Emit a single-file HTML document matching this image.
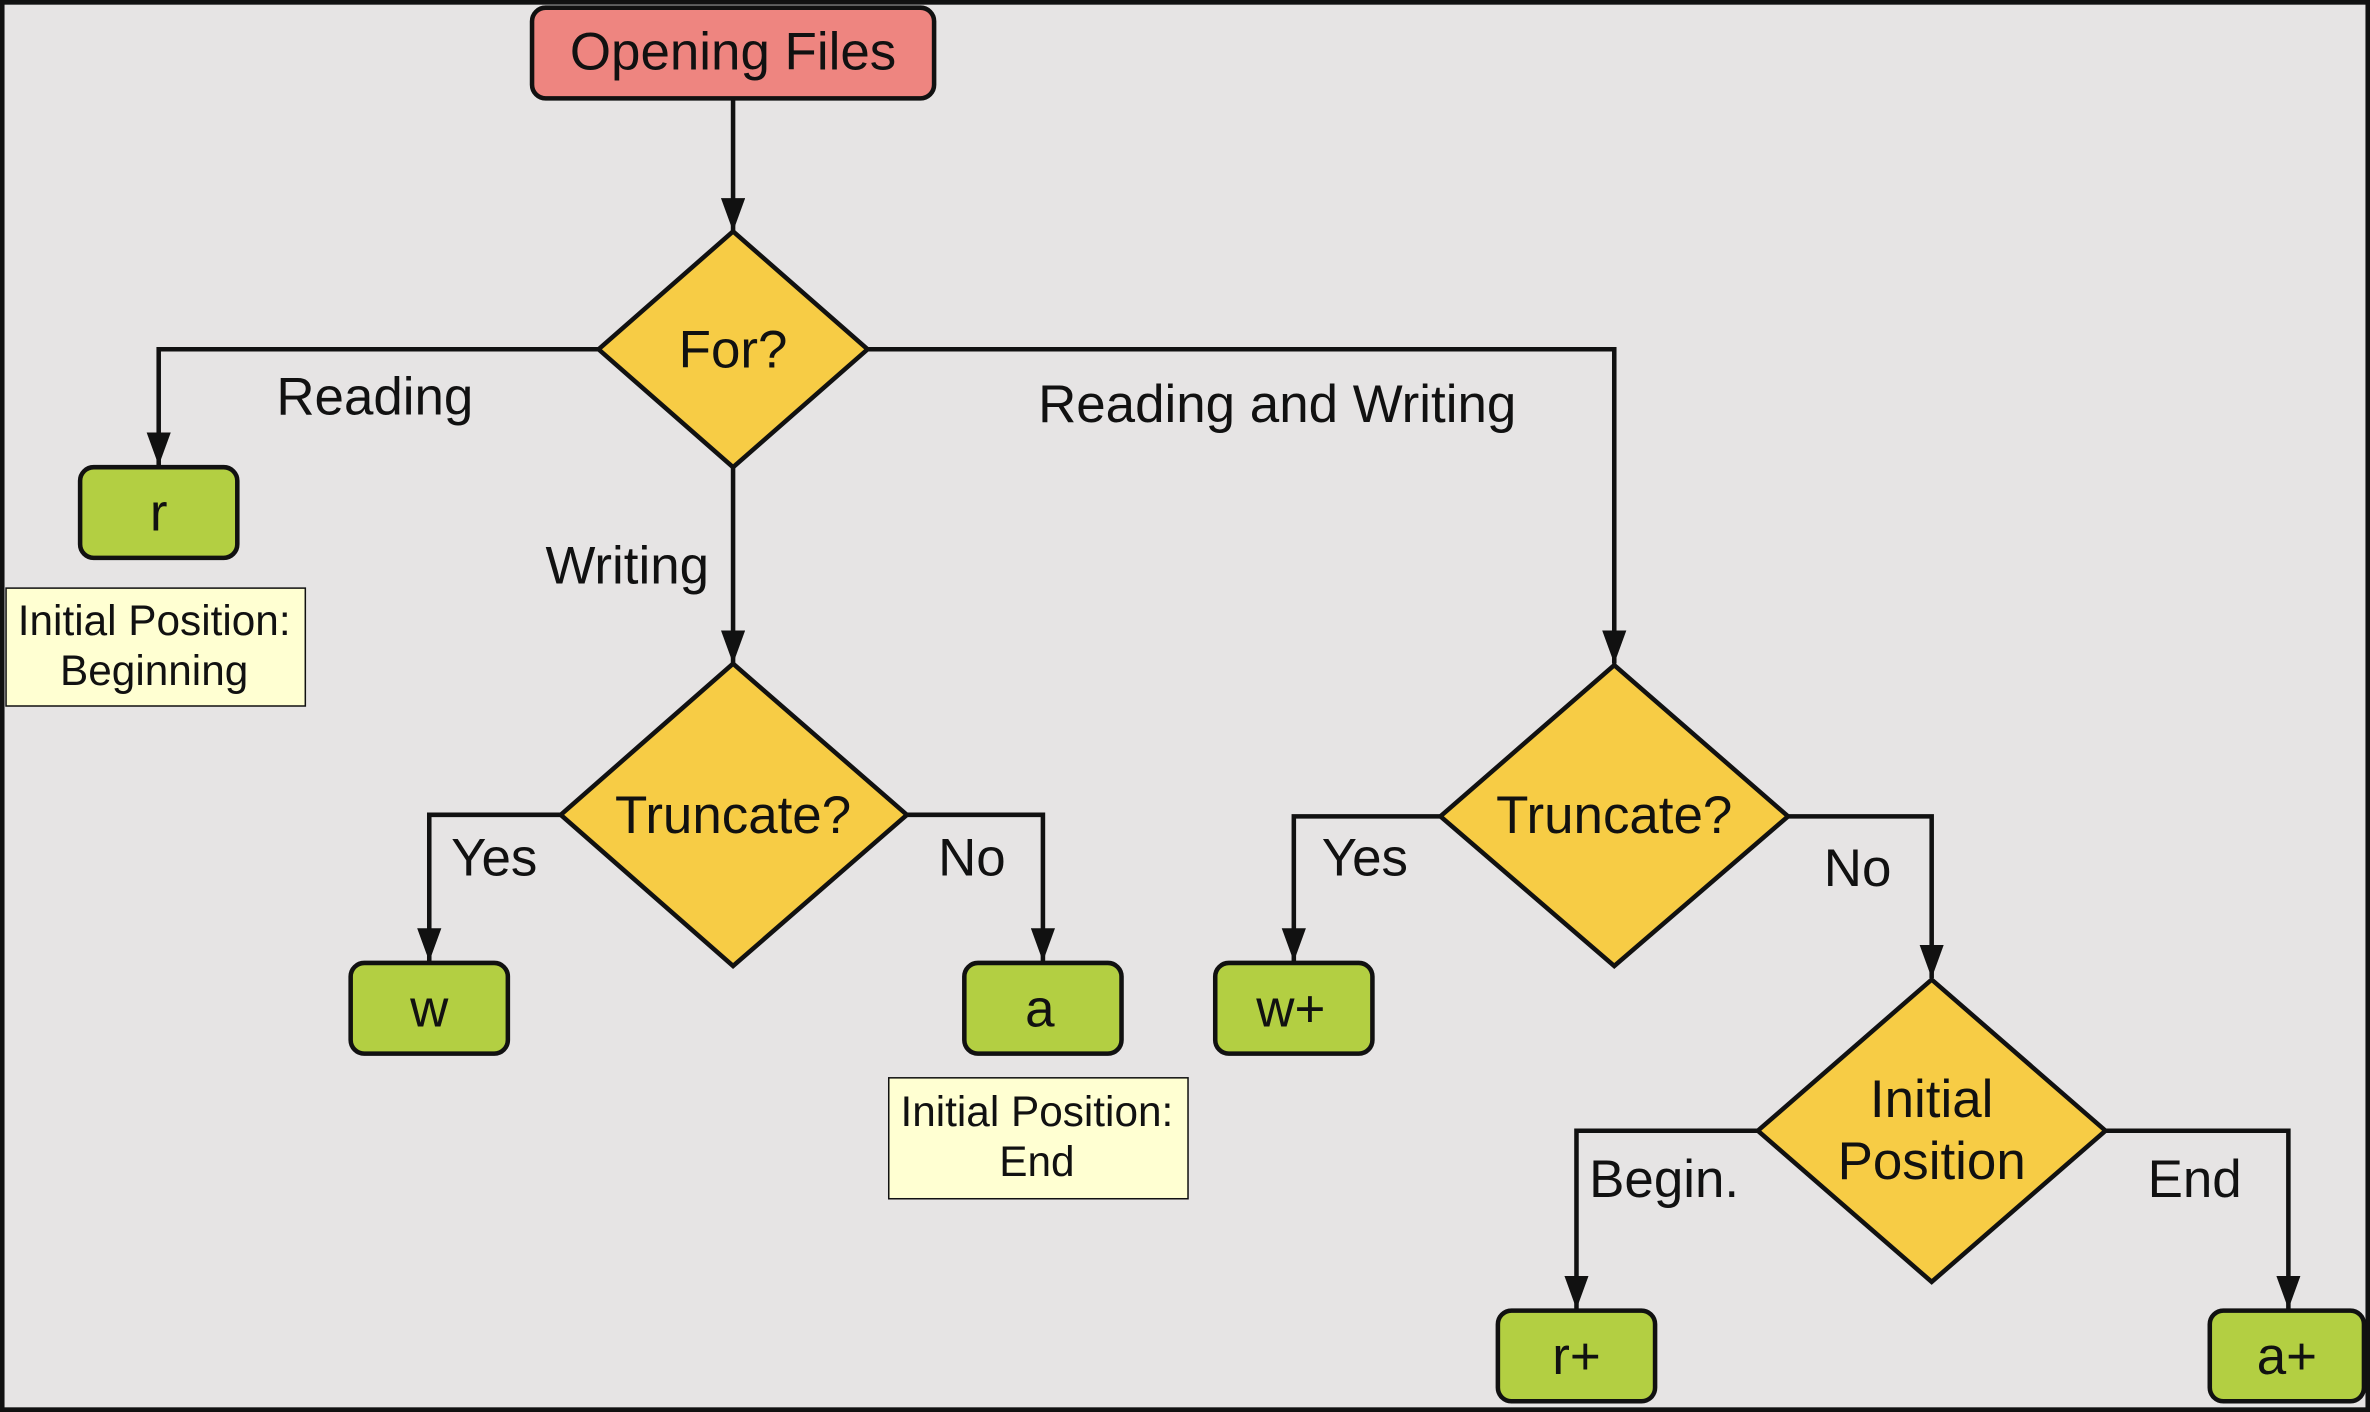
<!DOCTYPE html>
<html><head><meta charset="utf-8"><style>
html,body{margin:0;padding:0;background:#111;}
svg{display:block;}
text{font-family:"Liberation Sans",sans-serif;fill:#111;text-anchor:middle;}
</style></head><body>
<svg width="2370" height="1412" viewBox="0 0 1568 934" xmlns="http://www.w3.org/2000/svg">
<defs>
<marker id="ar" markerWidth="23" markerHeight="16" refX="22" refY="8" orient="auto" markerUnits="userSpaceOnUse">
<path d="M0,0 L22,8 L0,16 z" fill="#111"/>
</marker>
</defs>
<rect x="0" y="0" width="1568" height="934" fill="#111"/>
<rect x="3" y="3" width="1562" height="928" fill="#e6e4e4"/>
<g stroke="#111" stroke-width="3" fill="none" marker-end="url(#ar)">
<path d="M485,65 V153"/>
<path d="M396,231 H105 V308"/>
<path d="M574,231 H1068 V439"/>
<path d="M485,309 V439"/>
<path d="M371,539 H284 V636"/>
<path d="M600,539 H690 V636"/>
<path d="M953,540 H856 V636"/>
<path d="M1183,540 H1278 V647"/>
<path d="M1163,748 H1043 V866"/>
<path d="M1393,748 H1514 V866"/>
</g>
<g stroke="#111" stroke-width="3">
<rect x="352" y="5" width="266" height="60" rx="9" fill="#ee8580"/>
<polygon points="396,231 485,153 574,231 485,309" fill="#f7cc45"/>
<polygon points="371,539 485,439 600,539 485,639" fill="#f7cc45"/>
<polygon points="953,540 1068,440 1183,540 1068,639" fill="#f7cc45"/>
<polygon points="1163,748 1278,648 1393,748 1278,848" fill="#f7cc45"/>
<g fill="#b3cf42">
<rect x="53" y="309" width="104" height="60" rx="9"/>
<rect x="232" y="637" width="104" height="60" rx="9"/>
<rect x="638" y="637" width="104" height="60" rx="9"/>
<rect x="804" y="637" width="104" height="60" rx="9"/>
<rect x="991" y="867" width="104" height="60" rx="9"/>
<rect x="1462" y="867" width="102" height="60" rx="9"/>
</g>
</g>
<g stroke="#111" stroke-width="1" fill="#ffffd2">
<rect x="4" y="389" width="198" height="78"/>
<rect x="588" y="713" width="198" height="80"/>
</g>
<g font-size="35">
<text x="485" y="46">Opening Files</text>
<text x="485" y="243">For?</text>
<text x="485" y="551">Truncate?</text>
<text x="1068" y="551">Truncate?</text>
<text x="1278" y="739">Initial</text>
<text x="1278" y="780">Position</text>
<text x="105" y="351">r</text>
<text x="284" y="679">w</text>
<text x="688" y="679">a</text>
<text x="854" y="679">w+</text>
<text x="1043" y="909">r+</text>
<text x="1513" y="909">a+</text>
<text x="248" y="274">Reading</text>
<text x="845" y="279">Reading and Writing</text>
<text x="415" y="386">Writing</text>
<text x="327" y="579">Yes</text>
<text x="643" y="579">No</text>
<text x="903" y="579">Yes</text>
<text x="1229" y="586">No</text>
<text x="1101" y="792">Begin.</text>
<text x="1452" y="792">End</text>
</g>
<g font-size="28">
<text x="102" y="420">Initial Position:</text>
<text x="102" y="453">Beginning</text>
<text x="686" y="745">Initial Position:</text>
<text x="686" y="778">End</text>
</g>
</svg>
</body></html>
